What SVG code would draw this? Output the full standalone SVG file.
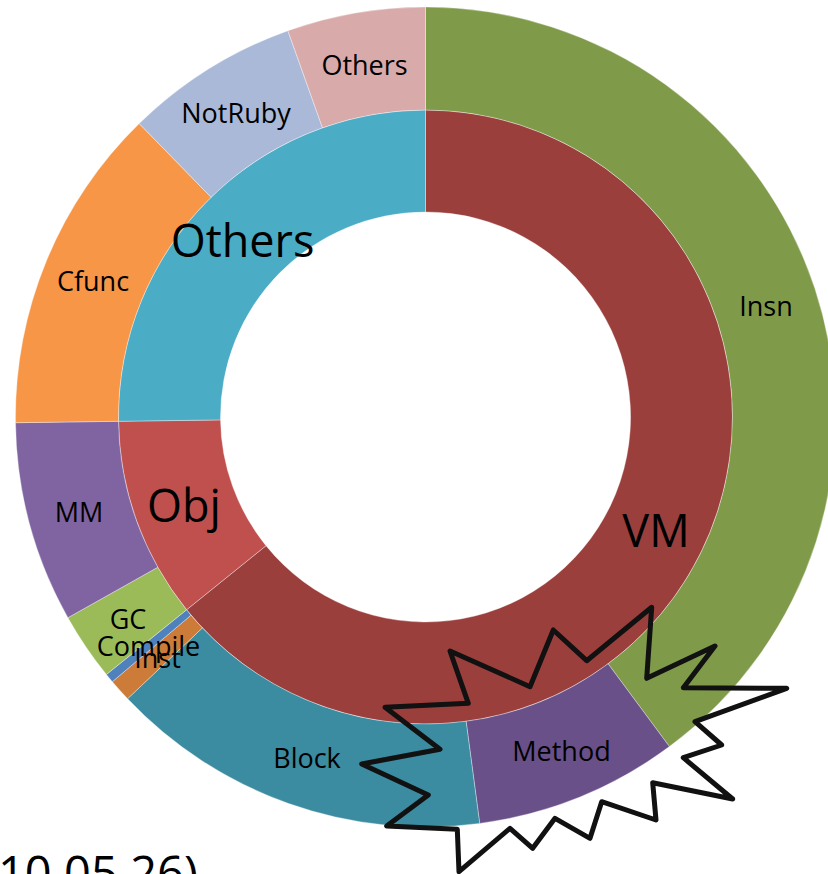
<svg xmlns="http://www.w3.org/2000/svg" width="828" height="874" viewBox="0 0 828 874">
<style>
.seg{stroke:#ffffff;stroke-opacity:0.35;stroke-width:1}
.lbl{font-family:"Open Sans","Liberation Sans",sans-serif;font-size:27px;fill:#000;text-anchor:middle}
.big{font-family:"Open Sans","Liberation Sans",sans-serif;font-size:45px;fill:#000;text-anchor:middle}
.star{fill:none;stroke:#111;stroke-width:5;stroke-linejoin:round}
</style>
<rect width="828" height="874" fill="#ffffff"/>
<g id="ring-inner">
<g id="vm"><path class="seg" fill="#9B3F3D" d="M425.5,110 A307,307 0 1 1 186.6,609.8 L266.0,545.7 A205,205 0 1 0 425.5,212 Z"/></g>
<g id="obj"><path class="seg" fill="#C0504D" d="M186.6,609.8 A307,307 0 0 1 118.5,421.3 L220.5,419.9 A205,205 0 0 0 266.0,545.7 Z"/></g>
<g id="others-inner"><path class="seg" fill="#4BACC6" d="M118.5,421.3 A307,307 0 0 1 425.5,110 L425.5,212 A205,205 0 0 0 220.5,419.9 Z"/></g>
</g>
<g id="ring-outer">
<g id="insn"><path class="seg" fill="#7F9B4A" d="M425.5,7 A410,410 0 0 1 669.4,746.6 L608.1,663.8 A307,307 0 0 0 425.5,110 Z"/></g>
<g id="method"><path class="seg" fill="#6A5089" d="M669.4,746.6 A410,410 0 0 1 479.7,823.4 L466.1,721.3 A307,307 0 0 0 608.1,663.8 Z"/></g>
<g id="block"><path class="seg" fill="#3B8BA1" d="M479.7,823.4 A410,410 0 0 1 127.6,698.7 L202.4,627.9 A307,307 0 0 0 466.1,721.3 Z"/></g>
<g id="inst"><path class="seg" fill="#CC7B38" d="M127.6,698.7 A410,410 0 0 1 112.3,681.7 L191.0,615.2 A307,307 0 0 0 202.4,627.9 Z"/></g>
<g id="compile"><path class="seg" fill="#4F81BD" d="M112.3,681.7 A410,410 0 0 1 106.4,674.5 L186.6,609.8 A307,307 0 0 0 191.0,615.2 Z"/></g>
<g id="gc"><path class="seg" fill="#9BBB59" d="M106.4,674.5 A410,410 0 0 1 67.9,617.7 L157.8,567.2 A307,307 0 0 0 186.6,609.8 Z"/></g>
<g id="mm"><path class="seg" fill="#8064A2" d="M67.9,617.7 A410,410 0 0 1 15.5,422.7 L118.5,421.3 A307,307 0 0 0 157.8,567.2 Z"/></g>
<g id="cfunc"><path class="seg" fill="#F79646" d="M15.5,422.7 A410,410 0 0 1 139.2,123.6 L211.1,197.3 A307,307 0 0 0 118.5,421.3 Z"/></g>
<g id="notruby"><path class="seg" fill="#AAB9D7" d="M139.2,123.6 A410,410 0 0 1 287.9,30.7 L322.5,127.8 A307,307 0 0 0 211.1,197.3 Z"/></g>
<g id="others-outer"><path class="seg" fill="#D9AAAA" d="M287.9,30.7 A410,410 0 0 1 425.5,7 L425.5,110 A307,307 0 0 0 322.5,127.8 Z"/></g>
</g>
<g id="labels">
<text class="big" x="242.5" y="257">Others</text>
<text class="big" x="184" y="522">Obj</text>
<text class="big" x="656" y="547">VM</text>
<text class="lbl" x="766" y="316">Insn</text>
<text class="lbl" x="561.5" y="761">Method</text>
<text class="lbl" x="307" y="768">Block</text>
<text class="lbl" x="128" y="629">GC</text>
<text class="lbl" x="148.5" y="656">Compile</text>
<text class="lbl" x="157.5" y="668">Inst</text>
<text class="lbl" x="79" y="522">MM</text>
<text class="lbl" x="93" y="291">Cfunc</text>
<text class="lbl" x="236" y="123">NotRuby</text>
<text class="lbl" x="364.5" y="75">Others</text>
</g>
<g id="starburst">
<polygon class="star" points="450,651 468.3,703.3 385,707.3 440,749.3 361.7,764 428.3,795 386.7,826 457.3,829.3 459,871.7 510,828.3 532.7,848.3 555,818.3 590,838.3 601.7,801.7 656,820 652.7,782.7 732.7,799 683.3,757.7 721.7,745 695,721.7 786.7,688.3 683.3,687.7 715,646 646.7,678.3 651.7,607.3 586.7,660.7 553.3,630 530,686.7"/>
</g>
<g id="caption">
<text x="-2" y="890" style="font-family:'Open Sans','Liberation Sans',sans-serif;font-size:47px;fill:#000">10.05.26)</text>
</g>
</svg>
